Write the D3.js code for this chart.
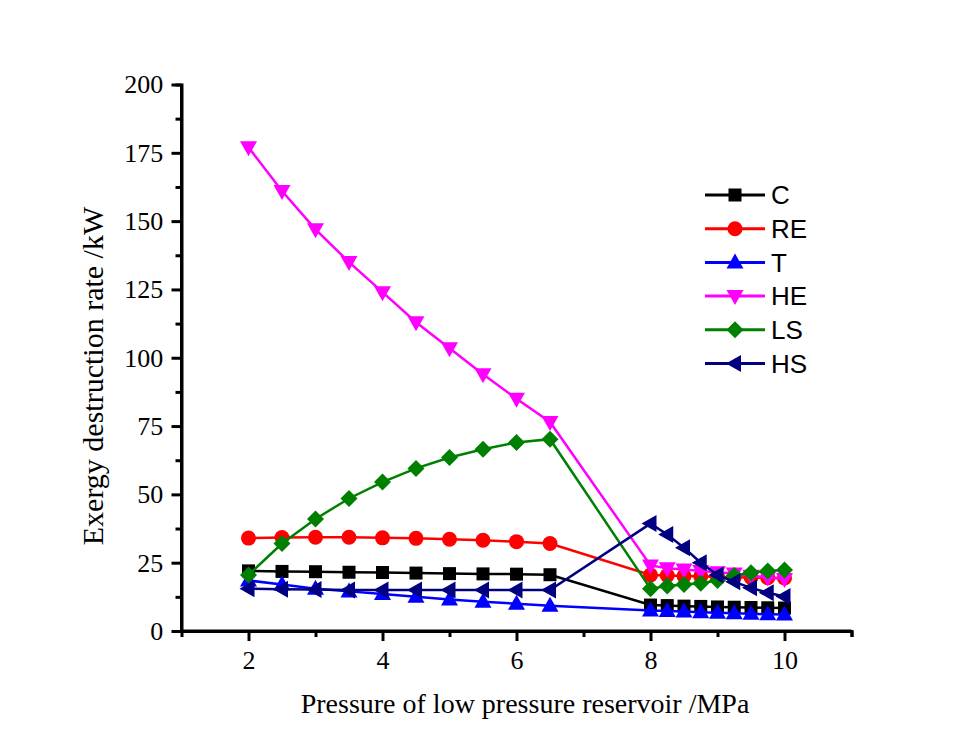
<!DOCTYPE html>
<html><head><meta charset="utf-8">
<script src="https://cdn.jsdelivr.net/npm/d3@7"></script>
<style>html,body{margin:0;padding:0;background:#fff;}</style>
</head><body>
<svg id="chart" width="972" height="751"></svg>
<script>
const pressures = [2, 2.5, 3, 3.5, 4, 4.5, 5, 5.5, 6, 6.5, 8, 8.25, 8.5, 8.75, 9, 9.25, 9.5, 9.75, 10];
const seriesNames = ["C", "RE", "T", "HE", "LS", "HS"];
const C  = [22, 21.8, 21.7, 21.5, 21.4, 21.2, 21, 20.9, 20.8, 20.6, 9.5, 9.3, 9.1, 9, 8.8, 8.7, 8.6, 8.5, 8.4];
const RE = [34, 34.2, 34.3, 34.3, 34.1, 33.9, 33.6, 33.2, 32.7, 32, 20.5, 20.3, 20.1, 20, 19.8, 19.7, 19.6, 19.5, 19.4];
const T  = [18.5, 17, 15.5, 14.5, 13.5, 12.5, 11.5, 10.7, 10, 9.2, 7.5, 7.3, 7.1, 6.9, 6.7, 6.5, 6.3, 6.1, 6];
const HE = [177, 161, 147, 135, 124, 113, 103.5, 94, 85, 76.5, 24, 23, 22.5, 22, 21.5, 21, 20.2, 19.6, 19];
const LS = [20.5, 32, 41, 48.5, 54.5, 59.5, 63.5, 66.5, 69, 70.2, 15.5, 16.5, 17, 17.5, 18.5, 20.3, 21.3, 22, 22.3];
const HS = [15.5, 15.3, 15.2, 15, 15, 15, 15, 15, 15, 15, 39.3, 35.3, 30.5, 25, 20.5, 18, 15.8, 14, 12.6];
const xTicks = [2, 4, 6, 8, 10];
const yTicks = [0, 25, 50, 75, 100, 125, 150, 175, 200];
const colors = ["#000000", "#ff0000", "#0000ff", "#ff00ff", "#008000", "#000080"];
const shapes = ["square", "circle", "up", "down", "diamond", "left"];
const allValues = [C, RE, T, HE, LS, HS];

const svg = d3.select("#chart");
const x = d3.scaleLinear().domain([1, 11]).range([181.5, 851.5]);
const y = d3.scaleLinear().domain([0, 200]).range([631, 84.5]);
const serif = "Liberation Serif, Times New Roman, serif";

function markerPath(shape) {
  switch (shape) {
    case "square": return "M-6.5,-6.5H6.5V6.5H-6.5Z";
    case "circle": return d3.symbol(d3.symbolCircle, Math.PI * 7.5 * 7.5)();
    case "diamond": return "M0,-8.5L8.5,0L0,8.5L-8.5,0Z";
    case "up": return "M0,-9L8.5,6L-8.5,6Z";
    case "down": return "M0,9L8.5,-6L-8.5,-6Z";
    case "left": return "M-9,0L6,-8.5L6,8.5Z";
  }
}

// axes
const gx = svg.append("g").attr("transform", `translate(0,${y(0)})`);
gx.call(d3.axisBottom(x).tickValues(xTicks).tickSize(10).tickFormat(d3.format("d")));
const gxm = svg.append("g").attr("transform", `translate(0,${y(0)})`);
gxm.call(d3.axisBottom(x).tickValues([3, 5, 7, 9, 11]).tickSize(6).tickFormat(""));
const gy = svg.append("g").attr("transform", `translate(${x(1)},0)`);
gy.call(d3.axisLeft(y).tickValues(yTicks).tickSize(10));
const gym = svg.append("g").attr("transform", `translate(${x(1)},0)`);
gym.call(d3.axisLeft(y).tickValues(yTicks.slice(0, -1).map(v => v + 12.5)).tickSize(6).tickFormat(""));
[gx, gxm, gy, gym].forEach(g => {
  g.select(".domain").attr("stroke", "#000").attr("stroke-width", 3);
  g.selectAll(".tick line").attr("stroke", "#000").attr("stroke-width", 3);
  g.selectAll(".tick text").attr("font-family", serif)
    .attr("font-size", 26).attr("fill", "#000");
});
gx.select(".domain").attr("d", `M${x(1)},0H${x(11)}`);
gy.select(".domain").attr("d", `M0,${y(0)}V${y(200)}`);
gx.selectAll(".tick text").attr("dy", "0.95em");
gy.selectAll(".tick text").attr("dx", "-0.2em");

// series
const line = d3.line().x(d => x(d[0])).y(d => y(d[1]));
allValues.forEach((vals, i) => {
  const pts = pressures.map((p, j) => [p, vals[j]]);
  const g = svg.append("g");
  g.append("path").attr("d", line(pts)).attr("fill", "none")
    .attr("stroke", colors[i]).attr("stroke-width", 2.5);
  g.selectAll("path.m").data(pts).enter().append("path").attr("class", "m")
    .attr("transform", d => `translate(${x(d[0])},${y(d[1])})`)
    .attr("d", markerPath(shapes[i])).attr("fill", colors[i]);
});

// legend
const leg = svg.append("g");
seriesNames.forEach((name, i) => {
  const yy = 195 + i * 33.7;
  leg.append("line").attr("x1", 705).attr("x2", 765).attr("y1", yy).attr("y2", yy)
    .attr("stroke", colors[i]).attr("stroke-width", 3);
  leg.append("path").attr("transform", `translate(735,${yy})`).attr("d", markerPath(shapes[i])).attr("fill", colors[i]);
  leg.append("text").attr("x", 771).attr("y", yy).attr("dy", "0.36em")
    .attr("font-family", "Liberation Sans, Arial, sans-serif").attr("font-size", 26).text(name);
});

// axis titles
svg.append("text").attr("x", 525).attr("y", 713).attr("text-anchor", "middle")
  .attr("font-family", serif).attr("font-size", 28)
  .text("Pressure of low pressure reservoir /MPa");
svg.append("text").attr("transform", "translate(103,376) rotate(-90)").attr("text-anchor", "middle")
  .attr("font-family", serif).attr("font-size", 30)
  .text("Exergy destruction rate /kW");
</script>
</body></html>
